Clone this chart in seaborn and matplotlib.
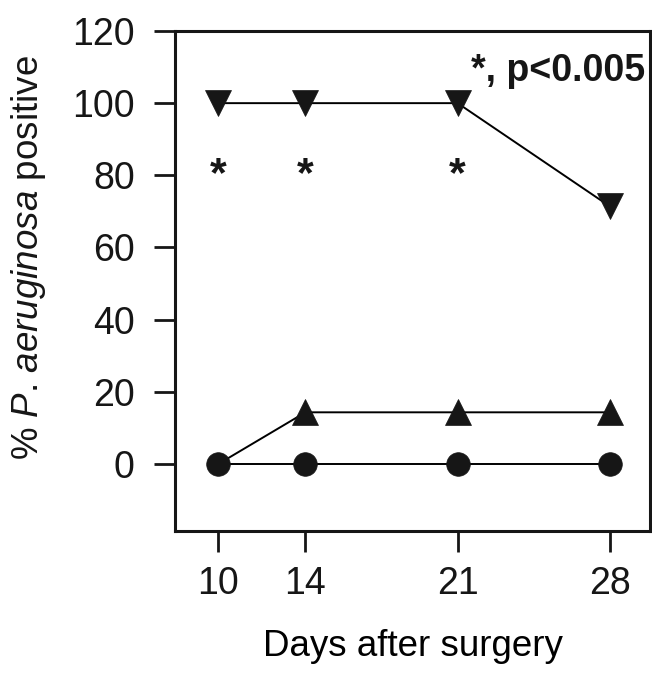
import matplotlib
matplotlib.use("Agg")
import matplotlib.pyplot as plt
import seaborn as sns
import pandas as pd

days = [10, 14, 21, 28]
inv_triangle = [100, 100, 100, 71.4]
triangle = [0, 14.3, 14.3, 14.3]
circle = [0, 0, 0, 0]
star_days = [10, 14, 21]
star_level = 80
x_ticks = [10, 14, 21, 28]
y_ticks = [0, 20, 40, 60, 80, 100, 120]

sns.set_theme(style="ticks")
plt.rcParams['font.family'] = ['Liberation Sans', 'DejaVu Sans']
plt.rcParams['mathtext.fontset'] = 'custom'
plt.rcParams['mathtext.rm'] = 'Liberation Sans'
plt.rcParams['mathtext.it'] = 'Liberation Sans:italic'

fig = plt.figure(figsize=(6.52, 6.82), dpi=100)
ax = fig.add_axes([175/652, 1-531/682, 475/652, 500/682])

ink = "#161616"
series = [
    ("inv", inv_triangle, "v", 19, None),
    ("tri", triangle, "^", 19, [1, 2, 3]),
    ("circ", circle, "o", 17, None),
]
for name, vals, mk, ms, me in series:
    df = pd.DataFrame({"day": days, "pct": vals})
    sns.lineplot(data=df, x="day", y="pct", ax=ax, color="black", lw=1.4,
                 marker=mk, markersize=ms, markerfacecolor=ink,
                 markeredgecolor=ink, markeredgewidth=0.5, markevery=me)

for d in star_days:
    ax.text(d, star_level, "*", ha="center", va="center", fontsize=31,
            fontweight="bold", color=ink)

ax.text(0.99, 0.92, "*, p<0.005", transform=ax.transAxes, ha="right",
        va="center", fontsize=27, fontweight="bold", color=ink)

ax.set_xlim(8.0, 29.85)
ax.set_ylim(-18.6, 120)
ax.set_xticks(x_ticks)
ax.set_yticks(y_ticks)
ax.tick_params(axis="both", direction="out", length=15, width=2.0,
               labelsize=27, colors=ink)
ax.tick_params(axis="x", pad=10)
ax.tick_params(axis="y", pad=14)
for s in ax.spines.values():
    s.set_linewidth(2.2)
    s.set_color(ink)

ax.set_xlabel("Days after surgery", fontsize=26.5, labelpad=20, color="black")
ax.set_ylabel(r"% $\mathit{P}$. $\mathit{aeruginosa}$ positive", fontsize=26.5,
              color=ink)
ax.yaxis.set_label_coords(-0.268, 0.546)

fig.savefig("out.png", dpi=100, facecolor="white")
